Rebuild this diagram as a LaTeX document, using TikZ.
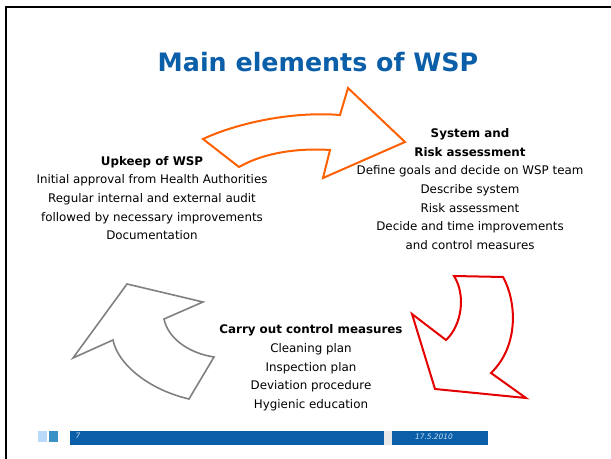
\documentclass[tikz,border=0pt]{standalone}
\usepackage{fontspec}
\setmainfont{DejaVu Sans}
\definecolor{titleblue}{RGB}{10,95,168}
\definecolor{arroworange}{RGB}{255,96,0}
\definecolor{arrowred}{RGB}{228,0,0}
\definecolor{arrowgray}{RGB}{128,128,128}
\definecolor{footlight}{RGB}{185,218,248}
\definecolor{footmid}{RGB}{57,145,198}
\definecolor{footgap}{RGB}{232,232,232}
\definecolor{foottext}{RGB}{200,222,242}
\begin{document}
\begin{tikzpicture}
[x=0.75pt,y=-0.75pt,
  titleDecorate/.style={inner sep=0pt,text=titleblue,font=\bfseries\fontsize{19}{22}\selectfont},
  blockDecorate/.style={inner sep=0pt,align=center,font=\fontsize{8.9}{14}\selectfont},
  arrowDecorate/.style={line width=1.5pt,line join=miter,fill=white},
  footDecorate/.style={inner sep=0pt,text=foottext,font=\itshape\fontsize{5.6}{7}\selectfont}]
\useasboundingbox (0,0) rectangle (611,459);
%% frame
\draw[line width=2pt] (6,459) -- (6,7) -- (611,7);
%% title
\node (title) at (318,62) [titleDecorate] {Main elements of WSP};
%% cycle arrows
\draw[arrowDecorate,draw=arroworange]
  (203,139) .. controls (235,124) and (290,111) .. (340,115) -- (348,88)
  -- (405,142) -- (323,178) -- (330,150)
  .. controls (300,148) and (265,152) .. (239,167) -- cycle;
\draw[arrowDecorate,draw=arrowred]
  (454,276) -- (503,277) .. controls (516,300) and (520,345) .. (491,373)
  -- (526,398) -- (435,389) -- (412,314) -- (446,340)
  .. controls (462,325) and (466,295) .. (454,276) -- cycle;
\draw[arrowDecorate,line width=1.2pt,draw=arrowgray]
  (127,284) -- (203,302) -- (164,319)
  .. controls (168,338) and (188,353) .. (214,357) -- (189,399)
  .. controls (150,390) and (118,365) .. (113,340) -- (73,358) -- cycle;
%% text blocks
\node (upkeep) at (152,198) [blockDecorate]
  {\textbf{Upkeep of WSP}\\Initial approval from Health Authorities\\
   Regular internal and external audit\\followed by necessary improvements\\
   Documentation};
\node (system) at (470,189) [blockDecorate]
  {\textbf{System and}\\\textbf{Risk assessment}\\Define goals and decide on WSP team\\
   Describe system\\Risk assessment\\Decide and time improvements\\
   and control measures};
\node (carry) at (311,368) [blockDecorate]
  {\textbf{Carry out control measures}\\Cleaning plan\\Inspection plan\\
   Deviation procedure\\Hygienic education};
%% footer
\foreach \xa/\xb/\ya/\yb/\col in {
  38/47/431/442/footlight, 49/58/431/442/footmid, 70/384/431/445/titleblue,
  384/392/431/445/footgap, 392/488/431/445/titleblue}
{
  \fill[\col] (\xa,\ya) rectangle (\xb,\yb);
}
\node (pagenum) at (78,436) [footDecorate] {7};
\node (date) at (434,437) [footDecorate] {17.5.2010};
\end{tikzpicture}
\end{document}
